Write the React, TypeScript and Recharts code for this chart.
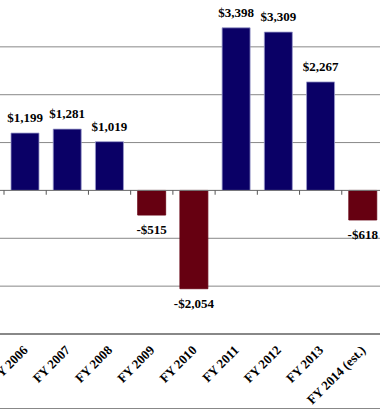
import React from 'react';
import { BarChart, Bar, XAxis, YAxis, CartesianGrid, Cell, LabelList, ReferenceLine } from 'recharts';

const years = ['FY 2006', 'FY 2007', 'FY 2008', 'FY 2009', 'FY 2010', 'FY 2011', 'FY 2012', 'FY 2013', 'FY 2014 (est.)'];
const values = [1199, 1281, 1019, -515, -2054, 3398, 3309, 2267, -618];
const yTicks = [-3000, -2000, -1000, 0, 1000, 2000, 3000, 4000];

const data = years.map((year, i) => ({ year, value: values[i] }));

const POS = '#0a0066';
const NEG = '#660011';
const GRID = '#888888';
const FONT = '"Liberation Serif", "Times New Roman", serif';

const fmt = (v: number) => {
  const s = '$' + Math.abs(v).toLocaleString('en-US');
  return v < 0 ? '-' + s : s;
};

const BarLabel = (props: any) => {
  const { x, y, width, height, value } = props;
  const top = Math.min(y, y + height);
  const bottom = Math.max(y, y + height);
  const cx = x + width / 2;
  const ty = value >= 0 ? top - 11 : bottom + 19;
  return (
    <text x={cx} y={ty} textAnchor="middle" fontSize={13} fontWeight="bold" fontFamily={FONT} fill="#000">
      {fmt(value)}
    </text>
  );
};

const XTick = (props: any) => {
  const { x, y, payload } = props;
  return (
    <g transform={`translate(${x + 3.5},${y + 17})`}>
      <text textAnchor="end" transform="rotate(-45)" fontSize={13} fontWeight="bold" fontFamily={FONT} fill="#000">
        {payload.value}
      </text>
    </g>
  );
};

export default function App() {
  return (
    <div
      style={{
        position: 'fixed',
        left: 0,
        top: -1,
        width: 380,
        height: 409,
        overflow: 'hidden',
        borderBottom: '1px solid #888',
        background: '#fff',
      }}
    >
      <BarChart width={400} height={409} data={data} margin={{ top: 0, right: 16, bottom: 0, left: 0 }} barSize={28}>
        <CartesianGrid vertical={false} stroke={GRID} />
        <YAxis hide domain={[-3000, 4000]} ticks={yTicks} type="number" />
        <XAxis
          dataKey="year"
          height={74}
          padding={{ left: 4, right: 0 }}
          tickLine={false}
          tickSize={0}
          tickMargin={0}
          interval={0}
          axisLine={{ stroke: GRID, strokeWidth: 2 }}
          tick={<XTick />}
        />
        <ReferenceLine y={0} stroke="#777" />
        {years.map((yr) => (
          <ReferenceLine
            key={yr}
            segment={[{ x: yr, y: 0 }, { x: yr, y: -90 }]}
            position="start"
            stroke="#555"
          />
        ))}
        <ReferenceLine
          segment={[{ x: years[years.length - 1], y: 0 }, { x: years[years.length - 1], y: -90 }]}
          position="end"
          stroke="#555"
        />
        <Bar dataKey="value" isAnimationActive={false}>
          {data.map((d, i) => (
            <Cell key={i} fill={d.value >= 0 ? POS : NEG} stroke={d.value >= 0 ? '#9a9acc' : NEG} strokeWidth={0.8} />
          ))}
          <LabelList dataKey="value" content={<BarLabel />} />
        </Bar>
      </BarChart>
    </div>
  );
}
